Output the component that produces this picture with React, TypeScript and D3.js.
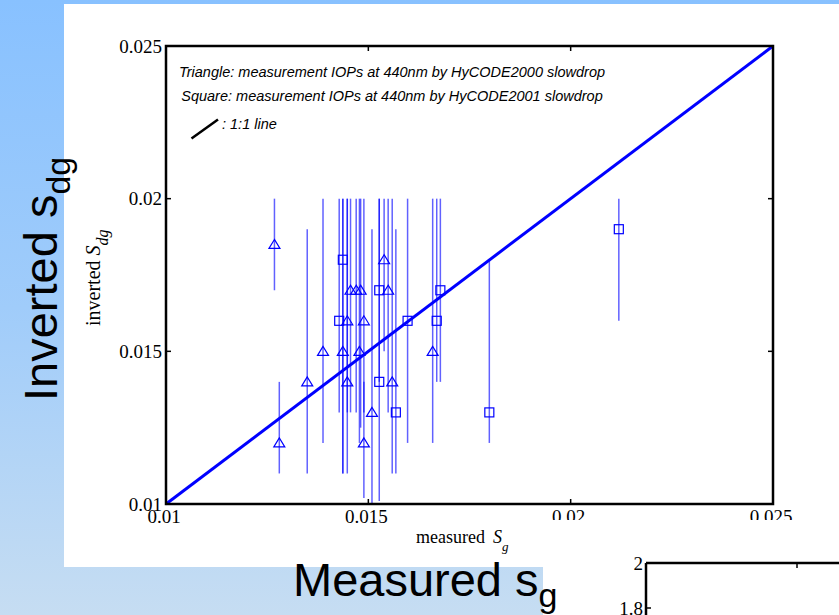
import React from "react";
import * as d3 from "d3";

// ---- data ----
// Triangles: HyCODE2000 slowdrop
const triX = [0.01268, 0.0128, 0.01349, 0.01388, 0.01437, 0.01448, 0.01448, 0.01456, 0.0147, 0.01481, 0.01478, 0.01489, 0.01489, 0.01509, 0.01539, 0.01549, 0.01559, 0.01659];
const triY = [0.0185, 0.012, 0.014, 0.015, 0.015, 0.014, 0.016, 0.017, 0.017, 0.017, 0.015, 0.016, 0.012, 0.013, 0.018, 0.017, 0.014, 0.015];
const triLo = [0.017, 0.011, 0.011, 0.012, 0.011, 0.011, 0.013, 0.013, 0.013, 0.0125, 0.012, 0.013, 0.0102, 0.0100, 0.015, 0.013, 0.011, 0.012];
const triHi = [0.02, 0.014, 0.019, 0.02, 0.02, 0.02, 0.02, 0.02, 0.02, 0.02, 0.02, 0.02, 0.014, 0.019, 0.02, 0.02, 0.02, 0.02];

// Squares: HyCODE2001 slowdrop
const sqX = [0.01428, 0.01437, 0.01527, 0.01527, 0.01568, 0.01597, 0.01669, 0.01678, 0.01799, 0.02119];
const sqY = [0.016, 0.018, 0.017, 0.014, 0.013, 0.016, 0.016, 0.017, 0.013, 0.019];
const sqLo = [0.013, 0.011, 0.014, 0.0101, 0.011, 0.012, 0.014, 0.014, 0.012, 0.016];
const sqHi = [0.02, 0.02, 0.02, 0.02, 0.019, 0.02, 0.02, 0.02, 0.018, 0.02];

const axisTicks = [0.01, 0.015, 0.02, 0.025];
const axisTickLabels = ["0.01", "0.015", "0.02", "0.025"];
const lineDomain = [0.01, 0.025];

const legendLines = [
  "Triangle: measurement IOPs at 440nm by HyCODE2000 slowdrop",
  "Square: measurement IOPs at 440nm by HyCODE2001 slowdrop",
];
const legendLineLabel = ": 1:1 line";

// second (partially visible) chart
const ticks2 = [2, 1.8];
const tickLabels2 = ["2", "1.8"];

export default function App() {
  const W = 839, H = 615;
  const x = d3.scaleLinear().domain([0.01, 0.025]).range([166, 773]);
  const y = d3.scaleLinear().domain([0.01, 0.025]).range([504, 46]);
  const y2 = d3.scaleLinear().domain([1.8, 2]).range([608, 563]);

  const serif = "'Liberation Serif', 'Times New Roman', serif";
  const sans = "'Liberation Sans', Arial, Helvetica, sans-serif";
  const blue = "#0000ff";

  const triPath = (cx: number, cy: number) =>
    `M${cx},${cy - 5}L${cx - 5.5},${cy + 4}L${cx + 5.5},${cy + 4}Z`;

  const line11 = d3.line<number>().x((d) => x(d)).y((d) => y(d));

  return (
    <svg
      width={W}
      height={H}
      style={{ position: "fixed", left: 0, top: 0, display: "block" }}
    >
      <defs>
        <linearGradient id="bg" x1="0" y1="0" x2="0" y2="1">
          <stop offset="0" stopColor="#88c1ff" />
          <stop offset="0.5" stopColor="#a0ccfa" />
          <stop offset="1" stopColor="#c6ddf2" />
        </linearGradient>
        <clipPath id="xlabClip">
          <rect x={0} y={0} width={470} height={H} />
          <rect x={470} y={0} width={W} height={520} />
        </clipPath>
      </defs>
      <rect x={0} y={0} width={W} height={H} fill="url(#bg)" />
      {/* white figure panel */}
      <rect x={64} y={4} width={W - 64} height={563} fill="#ffffff" />
      {/* second figure panel (bottom right) */}
      <rect x={543} y={567} width={W - 543} height={H - 567} fill="#ffffff" />

      {/* error bars */}
      <g stroke={blue} strokeOpacity={0.62} strokeWidth={1.5}>
        {triX.map((v, i) => (
          <line key={"te" + i} x1={x(v)} x2={x(v)} y1={y(triLo[i])} y2={y(triHi[i])} />
        ))}
        {sqX.map((v, i) => (
          <line key={"se" + i} x1={x(v)} x2={x(v)} y1={y(sqLo[i])} y2={y(sqHi[i])} />
        ))}
      </g>

      {/* markers */}
      <g fill="none" stroke={blue} strokeWidth={1.2}>
        {triX.map((v, i) => (
          <path key={"t" + i} d={triPath(x(v), y(triY[i]))} />
        ))}
        {sqX.map((v, i) => (
          <rect key={"s" + i} x={x(v) - 4.5} y={y(sqY[i]) - 4.5} width={9} height={9} />
        ))}
      </g>

      {/* 1:1 line */}
      <path d={line11(lineDomain) || ""} stroke={blue} strokeWidth={3} fill="none" />

      {/* frame */}
      <rect x={166} y={46} width={607} height={458} fill="none" stroke="#000" strokeWidth={2.5} />
      {/* inward ticks */}
      <g stroke="#000" strokeWidth={1.5}>
        {axisTicks.slice(1, 3).map((t, i) => (
          <g key={"tk" + i}>
            <line x1={x(t)} x2={x(t)} y1={504} y2={499} />
            <line x1={x(t)} x2={x(t)} y1={46} y2={51} />
            <line x1={166} x2={171} y1={y(t)} y2={y(t)} />
            <line x1={773} x2={768} y1={y(t)} y2={y(t)} />
          </g>
        ))}
      </g>

      {/* tick labels */}
      <g fontFamily={serif} fontSize={19} fill="#000">
        {axisTicks.map((t, i) => (
          <text key={"yl" + i} x={162} y={y(t) + 6.5} textAnchor="end">
            {axisTickLabels[i]}
          </text>
        ))}
        <g clipPath="url(#xlabClip)">
          {axisTicks.map((t, i) => (
            <text key={"xl" + i} x={x(t) - 2} y={523} textAnchor="middle">
              {axisTickLabels[i]}
            </text>
          ))}
        </g>
      </g>

      {/* axis titles (figure) */}
      <text x={416} y={543} fontFamily={serif} fontSize={18} fill="#000">
        measured
        <tspan dx={8} fontStyle="italic">S</tspan>
        <tspan dy={8} fontSize={13} fontStyle="italic">g</tspan>
      </text>
      <text
        transform="translate(100,326) rotate(-90)"
        fontFamily={serif}
        fontSize={20}
        fill="#000"
      >
        inverted
        <tspan dx={5} fontStyle="italic">S</tspan>
        <tspan dy={8} fontSize={16} fontStyle="italic">dg</tspan>
      </text>

      {/* legend */}
      <g fontFamily={sans} fontStyle="italic" fontSize={14.5} fill="#000">
        <text x={392} y={77} textAnchor="middle">{legendLines[0]}</text>
        <text x={392} y={101} textAnchor="middle">{legendLines[1]}</text>
        <text x={222} y={129}>{legendLineLabel}</text>
      </g>
      <line x1={191.5} y1={138.5} x2={218} y2={119.5} stroke="#000" strokeWidth={2.5} />

      {/* slide titles */}
      <text
        transform="translate(57,401) rotate(-90)"
        fontFamily={sans}
        fontSize={47}
        fill="#000"
      >
        Inverted s
        <tspan dy={13} fontSize={34}>dg</tspan>
      </text>
      <text x={293} y={596} fontFamily={sans} fontSize={47} fill="#000">
        Measured s
        <tspan dy={11} fontSize={34}>g</tspan>
      </text>

      {/* second chart (partially visible) */}
      <g>
        <line x1={646} x2={W} y1={y2(2)} y2={y2(2)} stroke="#000" strokeWidth={2.5} />
        <line x1={646} x2={646} y1={y2(2)} y2={H} stroke="#000" strokeWidth={2.5} />
        <line x1={797} x2={797} y1={y2(2)} y2={y2(2) + 5} stroke="#000" strokeWidth={1.5} />
        <line x1={646} x2={651} y1={y2(1.8)} y2={y2(1.8)} stroke="#000" strokeWidth={1.5} />
        {ticks2.map((t, i) => (
          <text
            key={"t2" + i}
            x={643}
            y={y2(t) + 6.5}
            textAnchor="end"
            fontFamily={serif}
            fontSize={19}
            fill="#000"
          >
            {tickLabels2[i]}
          </text>
        ))}
      </g>
    </svg>
  );
}
